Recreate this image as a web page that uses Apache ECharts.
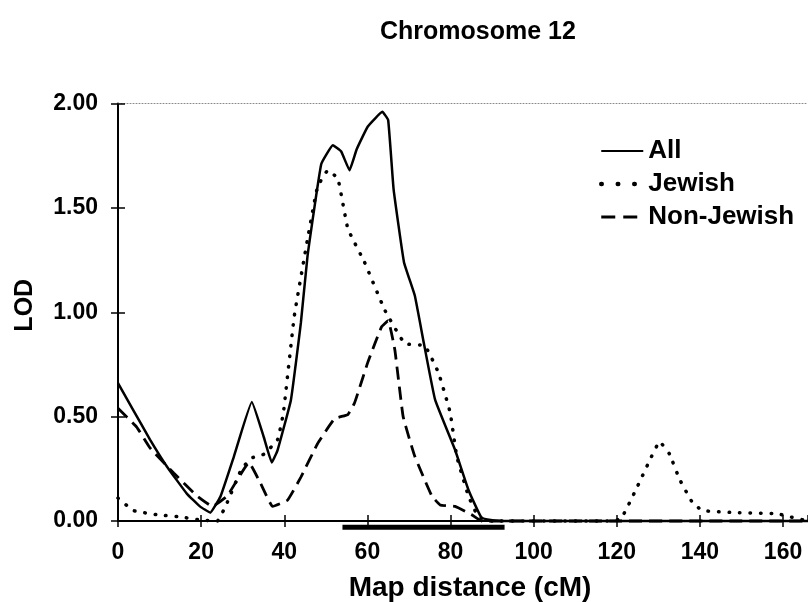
<!DOCTYPE html>
<html>
<head>
<meta charset="utf-8">
<script src="https://cdn.jsdelivr.net/npm/echarts@6/dist/echarts.min.js"></script>
<style>
html,body{margin:0;padding:0;background:#fff;}
#chart{width:808px;height:602px;}
</style>
</head>
<body>
<div id="chart"></div>
<script>
// ---- Data (map distance in cM, LOD score) ----
var allX = [0, 3.7, 7.7, 11.8, 16.6, 19.7, 22.2, 24.7, 27.9, 32.2, 35.1, 37, 38.4, 41.6, 44, 45.6, 48.9, 51.7, 53.7, 55.7, 57.4, 60.1, 63.6, 65, 66.3, 68.8, 71.4, 73.6, 76.3, 81.1, 84.3, 87.5, 92, 166];
var allY = [0.66, 0.53, 0.39, 0.26, 0.13, 0.07, 0.04, 0.12, 0.31, 0.57, 0.40, 0.28, 0.34, 0.58, 0.95, 1.27, 1.71, 1.80, 1.77, 1.68, 1.78, 1.89, 1.96, 1.92, 1.59, 1.24, 1.08, 0.85, 0.58, 0.34, 0.15, 0.015, 0, 0];

var jewX = [0, 3.7, 9.4, 14.9, 19.7, 23.9, 26.3, 29.5, 31.9, 35.1, 38.4, 39.8, 42.4, 45.6, 48, 50.5, 52.9, 55.3, 59.3, 64.2, 69, 73.8, 77.1, 79.9, 81.5, 84.3, 86.7, 90, 118, 121, 124.6, 127.9, 130.3, 132.7, 135.1, 138.3, 140.7, 148.8, 158.5, 161.7, 166];
var jewY = [0.11, 0.05, 0.03, 0.02, 0.005, 0, 0.09, 0.24, 0.30, 0.32, 0.39, 0.52, 0.98, 1.35, 1.60, 1.68, 1.64, 1.40, 1.24, 1.01, 0.85, 0.84, 0.71, 0.52, 0.31, 0.12, 0.02, 0, 0, 0.01, 0.15, 0.29, 0.38, 0.32, 0.20, 0.085, 0.05, 0.04, 0.035, 0.02, 0];

var nonX = [0, 4.5, 7.7, 13.4, 19, 22.7, 26.3, 31.5, 34.3, 37.2, 40.8, 44, 48, 52.1, 55.3, 56.9, 60.1, 63.4, 65, 66.6, 68.6, 71.4, 75.5, 77.5, 81.1, 85.1, 87.5, 92, 166];
var nonY = [0.54, 0.45, 0.35, 0.23, 0.12, 0.07, 0.12, 0.28, 0.18, 0.07, 0.10, 0.21, 0.37, 0.49, 0.51, 0.565, 0.76, 0.93, 0.96, 0.82, 0.50, 0.31, 0.12, 0.077, 0.07, 0.03, 0, 0, 0];

// thick bar drawn just under the axis in the original figure
var barX = [54, 93];
var barY = [-0.03, -0.03];

var seriesNames = ['All', 'Jewish', 'Non-Jewish'];

function zip(xs, ys) { return xs.map(function (x, i) { return [x, ys[i]]; }); }

var FONT = '"Liberation Sans", Arial, Helvetica, sans-serif';
var gridBox = { left: 118, right: 0, top: 103.5, bottom: 81, containLabel: false, outerBoundsMode: 'none' };

var chart = echarts.init(document.getElementById('chart'), null, { renderer: 'canvas' });
chart.setOption({
  animation: false,
  backgroundColor: '#ffffff',
  title: {
    text: 'Chromosome 12',
    left: 375, top: 15,
    textStyle: { fontFamily: FONT, fontWeight: 'bold', fontSize: 25, color: '#000' }
  },
  legend: {
    data: [
      { name: seriesNames[0] },
      { name: seriesNames[1], lineStyle: { width: 4.5, cap: 'round', type: [0.5, 16] } },
      { name: seriesNames[2], lineStyle: { width: 3, type: [14, 8] } }
    ],
    orient: 'vertical',
    left: 594, top: 133,
    itemWidth: 42, itemHeight: 14, itemGap: 7,
    itemStyle: { opacity: 0 },
    textStyle: { fontFamily: FONT, fontWeight: 'bold', fontSize: 26, color: '#000', lineHeight: 26 }
  },
  grid: [
    Object.assign({}, gridBox),
    Object.assign({}, gridBox)
  ],
  xAxis: [
    {
      type: 'value', gridIndex: 0, position: 'bottom',
      min: 0, max: 166, interval: 20,
      axisLine: { show: true, lineStyle: { color: '#000', width: 2 } },
      axisTick: { show: true, inside: false, length: 6, lineStyle: { color: '#000', width: 1.5 } },
      axisLabel: { show: true, margin: 20, showMaxLabel: false, fontFamily: FONT, fontWeight: 'bold', fontSize: 23, color: '#000' },
      splitLine: { show: false },
      name: 'Map distance (cM)', nameLocation: 'middle', nameGap: 53,
      nameTextStyle: { fontFamily: FONT, fontWeight: 'bold', fontSize: 28, color: '#000', padding: [0, 0, 0, 14] }
    },
    {
      type: 'value', gridIndex: 0, position: 'top',
      min: 0, max: 166, interval: 20,
      axisLine: { show: true, lineStyle: { color: '#888', width: 1, type: [1, 2] } },
      axisTick: { show: false }, axisLabel: { show: false }, splitLine: { show: false }
    },
    {
      type: 'value', gridIndex: 1, position: 'bottom',
      min: 0, max: 166, interval: 20,
      axisLine: { show: false },
      axisTick: { show: true, inside: true, length: 6, lineStyle: { color: '#000', width: 1.5 } },
      axisLabel: { show: false }, splitLine: { show: false }
    }
  ],
  yAxis: [
    {
      type: 'value', gridIndex: 0, position: 'left',
      min: 0, max: 2, interval: 0.5,
      axisLine: { show: true, lineStyle: { color: '#000', width: 2 } },
      axisTick: { show: true, inside: false, length: 7, lineStyle: { color: '#000', width: 1.5 } },
      axisLabel: { show: true, margin: 20, fontFamily: FONT, fontWeight: 'bold', fontSize: 23, color: '#000',
        formatter: function (v) { return v.toFixed(2); } },
      splitLine: { show: false },
      name: 'LOD', nameLocation: 'middle', nameGap: 80,
      nameTextStyle: { fontFamily: FONT, fontWeight: 'bold', fontSize: 25, color: '#000', padding: [0, 0, 0, 14] }
    },
    {
      type: 'value', gridIndex: 1, position: 'left',
      min: 0, max: 2, interval: 0.5,
      axisLine: { show: false },
      axisTick: { show: true, inside: true, length: 7, lineStyle: { color: '#000', width: 1.5 } },
      axisLabel: { show: false }, splitLine: { show: false }
    }
  ],
  series: [
    {
      name: 'All', type: 'line', xAxisIndex: 0, yAxisIndex: 0,
      data: zip(allX, allY), symbol: 'none', smooth: 0.1, clip: false,
      lineStyle: { color: '#000', width: 2.5, type: 'solid' },
      itemStyle: { color: '#000' }, z: 5
    },
    {
      name: 'Jewish', type: 'line', xAxisIndex: 0, yAxisIndex: 0,
      data: zip(jewX, jewY), symbol: 'none', smooth: 0.1, clip: false,
      lineStyle: { color: '#000', width: 3.5, type: [0.5, 10], cap: 'round' },
      itemStyle: { color: '#000' }, z: 4
    },
    {
      name: 'Non-Jewish', type: 'line', xAxisIndex: 0, yAxisIndex: 0,
      data: zip(nonX, nonY), symbol: 'none', smooth: 0.1, clip: false,
      lineStyle: { color: '#000', width: 2.8, type: [13, 7] },
      itemStyle: { color: '#000' }, z: 3
    },
    {
      name: 'bar', type: 'line', xAxisIndex: 0, yAxisIndex: 0,
      data: zip(barX, barY), symbol: 'none', clip: false, silent: true,
      lineStyle: { color: '#000', width: 5 }, z: 2
    }
  ]
});
</script>
</body>
</html>
